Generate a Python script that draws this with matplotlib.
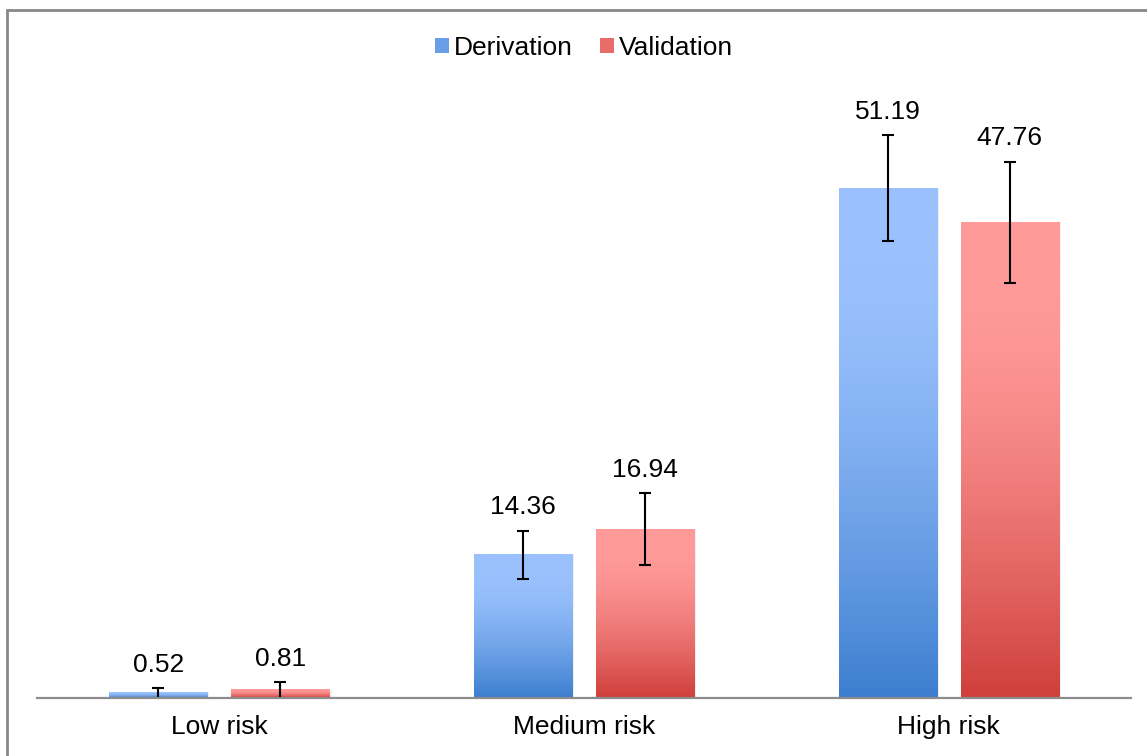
import matplotlib
matplotlib.use('Agg')
import matplotlib.pyplot as plt
import numpy as np
from matplotlib.colors import to_rgb
from matplotlib.patches import Patch, Rectangle

plt.rcParams['font.family'] = ['Liberation Sans', 'DejaVu Sans']

# data
categories = ['Low risk', 'Medium risk', 'High risk']
series = ['Derivation', 'Validation']
derivation = [0.52, 14.36, 51.19]
validation = [0.81, 16.94, 47.76]
derivation_err = [0.5, 2.45, 5.35]
validation_err = [0.8, 3.6, 6.1]

light = {'Derivation': '#9AC1FD', 'Validation': '#FF9A99'}
dark = {'Derivation': '#3C7ECF', 'Validation': '#CF3F3B'}

fig = plt.figure(figsize=(11.47, 7.56), dpi=100)
ax = fig.add_axes([37/1147, 58/756, 1094/1147, 678/756])

x = np.arange(len(categories))
width = 0.269
offset = 0.1675

def gradient_bars(xpos, values, name):
    # light at the top, easing into a darker base
    t = np.linspace(0, 1, 256)
    f = np.clip((t - 0.15) / 0.85, 0, 1) ** 1.5
    c0, c1 = np.array(to_rgb(light[name])), np.array(to_rgb(dark[name]))
    img = (c0[None, :] * (1 - f[:, None]) + c1[None, :] * f[:, None]).reshape(-1, 1, 3)
    for xi, v in zip(xpos, values):
        # faint shadow on the right side
        ax.add_patch(Rectangle((xi - width/2 + 0.006, 0), width, v, color='#000000', alpha=0.06, lw=0, zorder=1))
        ax.imshow(img, aspect='auto', extent=[xi - width/2, xi + width/2, 0, v],
                  origin='upper', zorder=2, interpolation='bicubic')

gradient_bars(x - offset, derivation, 'Derivation')
gradient_bars(x + offset, validation, 'Validation')

ax.errorbar(x - offset, derivation, yerr=derivation_err, fmt='none', ecolor='black',
            elinewidth=1.5, capsize=4, capthick=1.5, zorder=3)
ax.errorbar(x + offset, validation, yerr=validation_err, fmt='none', ecolor='black',
            elinewidth=1.5, capsize=4, capthick=1.5, zorder=3)

for xs, vals, errs in [(x - offset, derivation, derivation_err), (x + offset, validation, validation_err)]:
    for xi, v, e in zip(xs, vals, errs):
        ax.annotate(f'{v:.2f}', (xi, v + e), xytext=(0, 8), textcoords='offset points',
                    ha='center', va='bottom', fontsize=19, color='black')

ax.set_xlim(-0.5, 2.5)
ax.set_ylim(0, 678/9.96)
ax.set_xticks(x)
ax.set_xticklabels(categories, fontsize=19)
ax.tick_params(axis='x', length=0, pad=12)
ax.set_yticks([])
for s in ['top', 'right', 'left']:
    ax.spines[s].set_visible(False)
ax.spines['bottom'].set_color('#8C8C8C')
ax.spines['bottom'].set_linewidth(1.6)
ax.spines['bottom'].set_zorder(4)

handles = [Patch(facecolor='#6A9EE6', label='Derivation'), Patch(facecolor='#E86C6A', label='Validation')]
ax.legend(handles=handles, loc='upper center', bbox_to_anchor=(0.5, 1.0), ncol=2, frameon=False,
          fontsize=19, handlelength=0.55, handleheight=0.55, handletextpad=0.2, columnspacing=1.0,
          borderaxespad=0.2)

# outer chart border
fig.patches.append(Rectangle((7.5/1147, -0.05), 1.2, (756 - 10)/756 + 0.05, transform=fig.transFigure,
                             fill=False, edgecolor='#888888', lw=2))

fig.savefig('out.png', dpi=100)
